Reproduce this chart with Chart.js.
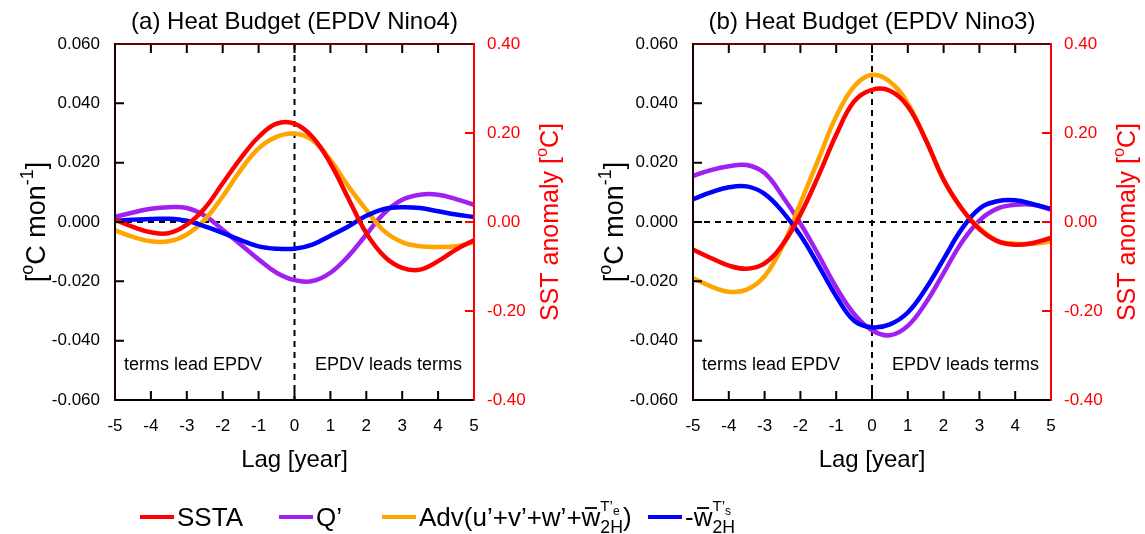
<!DOCTYPE html>
<html>
<head>
<meta charset="utf-8">
<script src="https://cdn.jsdelivr.net/npm/chart.js@4.4.1/dist/chart.umd.min.js"></script>
<style>
    body { margin: 0; background: #fff; }
    #wrap { position: relative; width: 1145px; height: 534px; }
    canvas { position: absolute; top: 0; }
</style>
</head>
<body>
<div id="wrap">
    <canvas id="chartA" width="1145" height="534" style="left:0"></canvas>
    <canvas id="chartB" width="567" height="534" style="left:578px"></canvas>
</div>
<script>
'use strict';

// Data (lag in years, every half year)
var lags = [-5, -4.5, -4, -3.5, -3, -2.5, -2, -1.5, -1, -0.5, 0, 0.5, 1, 1.5, 2, 2.5, 3, 3.5, 4, 4.5, 5];

// (a) EPDV Nino4
var sstaA = [0.005, -0.011, -0.023, -0.025, -0.006, 0.031, 0.087, 0.143, 0.191, 0.221, 0.221, 0.191, 0.132, 0.053, -0.025, -0.077, -0.103, -0.107, -0.088, -0.062, -0.041];
var qA = [0.0017, 0.0032, 0.0045, 0.0050, 0.0047, 0.0021, -0.0026, -0.0076, -0.0126, -0.0171, -0.0196, -0.0199, -0.0171, -0.0115, -0.0042, 0.0030, 0.0075, 0.0092, 0.0092, 0.0077, 0.0058];
var advA = [-0.0028, -0.0050, -0.0065, -0.0065, -0.0042, 0.0008, 0.0086, 0.0175, 0.0248, 0.0287, 0.0298, 0.0276, 0.0209, 0.0120, 0.0041, -0.0031, -0.0068, -0.0082, -0.0084, -0.0082, -0.0068];
var wA = [0.0003, 0.0008, 0.0010, 0.0011, 0.0004, -0.0015, -0.0037, -0.0061, -0.0082, -0.0090, -0.0090, -0.0076, -0.0046, -0.0015, 0.0021, 0.0044, 0.0050, 0.0047, 0.0036, 0.0025, 0.0017];

// (b) EPDV Nino3
var sstaB = [-0.062, -0.081, -0.098, -0.105, -0.093, -0.051, 0.017, 0.103, 0.196, 0.271, 0.297, 0.295, 0.260, 0.185, 0.095, 0.031, -0.016, -0.043, -0.051, -0.047, -0.036];
var qB = [0.0155, 0.0175, 0.0188, 0.0192, 0.0165, 0.0087, -0.0005, -0.0110, -0.0220, -0.0310, -0.0365, -0.0382, -0.0350, -0.0273, -0.0172, -0.0070, 0.0005, 0.0045, 0.0058, 0.0058, 0.0042];
var advB = [-0.0189, -0.0217, -0.0235, -0.0228, -0.0183, -0.0082, 0.0064, 0.0210, 0.0356, 0.0457, 0.0496, 0.0473, 0.0400, 0.0277, 0.0142, 0.0045, -0.0020, -0.0063, -0.0073, -0.0073, -0.0066];
var wB = [0.0077, 0.0100, 0.0117, 0.0120, 0.0095, 0.0035, -0.0045, -0.0145, -0.0250, -0.0333, -0.0355, -0.0345, -0.0305, -0.0225, -0.0125, -0.0025, 0.0045, 0.0070, 0.0073, 0.0060, 0.0044];

// Axis ranges / tick steps
var lagRange = [-5, 5];
var leftRange = [-0.06, 0.06];
var rightRange = [-0.4, 0.4];

var FONT = '"Liberation Sans", Arial, Helvetica, sans-serif';

function font(px) {
    return px + 'px ' + FONT;
}

function pts(values) {
    return lags.map(function (l, i) {
        return { x: l, y: values[i] };
    });
}

// text with sub/superscripts; returns width
function rich(ctx, parts, x, y, size, draw) {
    var cx = x;
    parts.forEach(function (p) {
        if (typeof p === 'string') {
            ctx.font = font(size);
            if (draw) ctx.fillText(p, cx, y);
            cx += ctx.measureText(p).width;
            return;
        }
        if (p.bar) {
            ctx.font = font(size);
            var bw = ctx.measureText(p.bar).width;
            if (draw) {
                ctx.fillText(p.bar, cx, y);
                ctx.fillRect(cx + bw * 0.18, y - size * 0.74, bw * 0.64, Math.max(1.5, size * 0.07));
            }
            cx += bw;
            return;
        }
        var adv = 0;
        if (p.sub) {
            ctx.font = font(size * 0.68);
            if (draw) ctx.fillText(p.sub, cx, y + size * 0.26);
            adv = ctx.measureText(p.sub).width;
        }
        if (p.sup) {
            var s = size * (p.sub ? 0.58 : 0.66);
            var sy = y - size * (p.sub ? 0.6 : 0.45);
            ctx.font = font(s);
            if (draw) ctx.fillText(p.sup, cx, sy);
            var w2 = ctx.measureText(p.sup).width;
            if (p.supSub) {
                ctx.font = font(s * 0.8);
                if (draw) ctx.fillText(p.supSub, cx + w2, sy + s * 0.3);
                w2 += ctx.measureText(p.supSub).width;
            }
            adv = Math.max(adv, w2);
        }
        cx += adv;
    });
    return cx - x;
}

function rotatedRich(ctx, parts, cx, cy, size, color) {
    ctx.save();
    ctx.translate(cx, cy);
    ctx.rotate(-Math.PI / 2);
    ctx.fillStyle = color;
    ctx.textBaseline = 'alphabetic';
    var w = rich(ctx, parts, 0, 0, size, false);
    rich(ctx, parts, -w / 2, size * 0.36, size, true);
    ctx.restore();
}

var leftTitle = ['[', { sup: 'o' }, 'C mon', { sup: '-1' }, ']'];
var rightTitle = ['SST anomaly [', { sup: 'o' }, 'C]'];

var legendLabels = [
    ['SSTA'],
    ['Q’'],
    ['Adv(u’+v’+w’+', { bar: 'w' }, { sub: '2H', sup: 'T’', supSub: 'e' }, ')'],
    ['-', { bar: 'w' }, { sub: '2H', sup: 'T’', supSub: 's' }]
];
var legendStarts = [140, 279, 382, 648];

// frame, ticks, titles, notes
var framePlugin = {
    id: 'frame',
    beforeDatasetsDraw: function (chart) {
        var ctx = chart.ctx, a = chart.chartArea;
        var x0 = chart.scales.x.getPixelForValue(0);
        var y0 = chart.scales.y.getPixelForValue(0);
        ctx.save();
        ctx.strokeStyle = '#000';
        ctx.lineWidth = 2;
        ctx.setLineDash([6, 5]);
        ctx.beginPath();
        ctx.moveTo(a.left, y0);
        ctx.lineTo(a.right, y0);
        ctx.moveTo(x0, a.top);
        ctx.lineTo(x0, a.bottom);
        ctx.stroke();
        ctx.restore();
    },
    afterDatasetsDraw: function (chart, args, opts) {
        var ctx = chart.ctx, a = chart.chartArea;
        var xs = chart.scales.x, ys = chart.scales.y, rs = chart.scales.y1;
        var tl = 9;
        ctx.save();
        ctx.lineWidth = 2;

        // ticks pointing inward
        ctx.strokeStyle = '#000';
        ctx.beginPath();
        xs.ticks.forEach(function (t) {
            if (t.value <= lagRange[0] || t.value >= lagRange[1]) return;
            var px = xs.getPixelForValue(t.value);
            ctx.moveTo(px, a.bottom);
            ctx.lineTo(px, a.bottom - tl);
            ctx.moveTo(px, a.top);
            ctx.lineTo(px, a.top + tl);
        });
        ys.ticks.forEach(function (t) {
            var py = ys.getPixelForValue(t.value);
            ctx.moveTo(a.left, py);
            ctx.lineTo(a.left + tl, py);
        });
        ctx.stroke();
        ctx.strokeStyle = '#ff0000';
        ctx.beginPath();
        rs.ticks.forEach(function (t) {
            var py = rs.getPixelForValue(t.value);
            ctx.moveTo(a.right, py);
            ctx.lineTo(a.right - tl, py);
        });
        ctx.stroke();

        // box
        ctx.lineCap = 'square';
        var sides = [
            ['#000', a.left, a.bottom, a.right, a.bottom],
            ['#6a0000', a.left, a.top, a.right, a.top],
            ['#1a0000', a.left, a.top, a.left, a.bottom],
            ['#ff0000', a.right, a.top, a.right, a.bottom]
        ];
        sides.forEach(function (s) {
            ctx.strokeStyle = s[0];
            ctx.beginPath();
            ctx.moveTo(s[1], s[2]);
            ctx.lineTo(s[3], s[4]);
            ctx.stroke();
        });

        // notes inside plot
        ctx.fillStyle = '#000';
        ctx.font = font(18);
        ctx.textBaseline = 'alphabetic';
        ctx.textAlign = 'left';
        ctx.fillText('terms lead EPDV', a.left + 9, a.bottom - 30);
        ctx.textAlign = 'right';
        ctx.fillText('EPDV leads terms', a.right - 12, a.bottom - 30);

        // titles
        var cx = (a.left + a.right) / 2;
        ctx.textAlign = 'center';
        ctx.textBaseline = 'middle';
        ctx.font = font(24);
        ctx.fillText(opts.title, cx, 22);
        ctx.fillText('Lag [year]', cx, 460);
        ctx.textAlign = 'left';
        rotatedRich(ctx, leftTitle, a.left - 80, (a.top + a.bottom) / 2, 27, '#000');
        rotatedRich(ctx, rightTitle, a.right + 75, (a.top + a.bottom) / 2, 25, '#ff0000');

        // legend (only drawn once, under both panels)
        if (opts.legend) {
            var ly = 517, size = 26;
            ctx.textBaseline = 'alphabetic';
            chart.data.datasets.forEach(function (ds, i) {
                var lx = legendStarts[i];
                ctx.strokeStyle = ds.borderColor;
                ctx.lineWidth = 4;
                ctx.lineCap = 'butt';
                ctx.beginPath();
                ctx.moveTo(lx, ly);
                ctx.lineTo(lx + 34, ly);
                ctx.stroke();
                ctx.fillStyle = '#000';
                rich(ctx, legendLabels[i], lx + 37, ly + size * 0.36, size, true);
            });
        }
        ctx.restore();
    }
};

function makeChart(id, panel) {
    var tickFont = { family: FONT, size: 17 };
    return new Chart(document.getElementById(id), {
        type: 'line',
        data: {
            datasets: [
                { label: 'SSTA', data: pts(panel.ssta), yAxisID: 'y1', borderColor: '#ff0000', order: 0 },
                { label: 'Q’', data: pts(panel.q), yAxisID: 'y', borderColor: '#a020f0', order: 3 },
                { label: 'Adv', data: pts(panel.adv), yAxisID: 'y', borderColor: '#ffa500', order: 2 },
                { label: '-w', data: pts(panel.w), yAxisID: 'y', borderColor: '#0000ff', order: 1 }
            ]
        },
        options: {
            responsive: false,
            animation: false,
            events: [],
            layout: { padding: { top: 44, left: 0, right: panel.padRight, bottom: 0 } },
            elements: {
                line: { borderWidth: 4.5, tension: 0.4, fill: false },
                point: { radius: 0 }
            },
            plugins: {
                legend: { display: false },
                tooltip: { enabled: false },
                frame: { title: panel.title, legend: panel.legend }
            },
            scales: {
                x: {
                    type: 'linear',
                    min: lagRange[0],
                    max: lagRange[1],
                    ticks: { stepSize: 1, padding: 16, font: tickFont, color: '#000' },
                    grid: { display: false, drawTicks: false },
                    border: { display: false },
                    afterFit: function (s) { s.height = 134; }
                },
                y: {
                    position: 'left',
                    min: leftRange[0],
                    max: leftRange[1],
                    ticks: {
                        stepSize: 0.02, padding: 15, font: tickFont, color: '#000',
                        callback: function (v) { return v.toFixed(3); }
                    },
                    grid: { display: false, drawTicks: false },
                    border: { display: false },
                    afterFit: function (s) { s.width = 115; }
                },
                y1: {
                    position: 'right',
                    min: rightRange[0],
                    max: rightRange[1],
                    ticks: {
                        stepSize: 0.2, padding: 13, font: tickFont, color: '#ff0000',
                        callback: function (v) { return v.toFixed(2); }
                    },
                    grid: { display: false, drawTicks: false },
                    border: { display: false },
                    afterFit: function (s) { s.width = 60; }
                }
            }
        },
        plugins: [framePlugin]
    });
}

makeChart('chartA', {
    title: '(a) Heat Budget (EPDV Nino4)',
    ssta: sstaA, q: qA, adv: advA, w: wA,
    padRight: 611,
    legend: true
});

makeChart('chartB', {
    title: '(b) Heat Budget (EPDV Nino3)',
    ssta: sstaB, q: qB, adv: advB, w: wB,
    padRight: 34,
    legend: false
});
</script>
</body>
</html>
